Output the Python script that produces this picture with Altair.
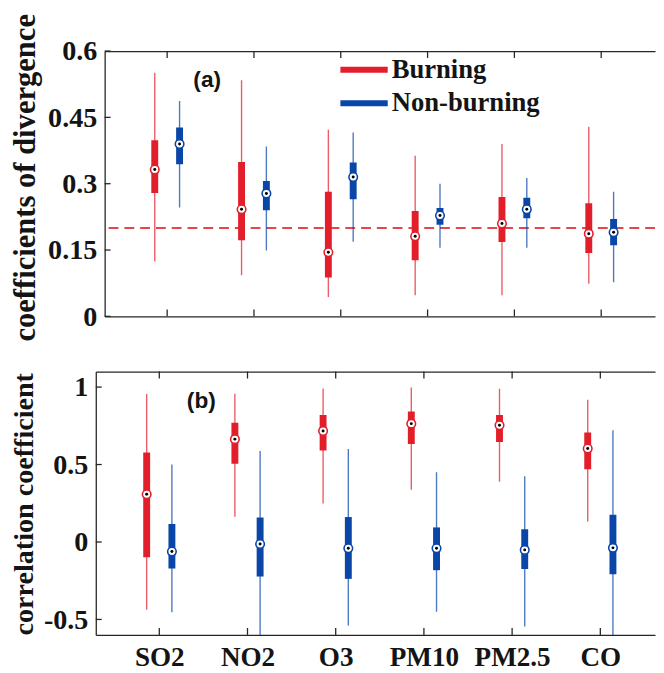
import altair as alt
import pandas as pd

# ---------------- data ----------------
pollutants = ["SO2", "NO2", "O3", "PM10", "PM2.5", "CO"]
groups = ["Burning", "Non-burning"]
colors = ["#E31E2B", "#0A46A8"]

# panel (a): coefficients of divergence  (lower whisker, q1, median, q3, upper whisker)
a_burn_lo = [0.124, 0.093, 0.044, 0.048, 0.048, 0.074]
a_burn_q1 = [0.279, 0.172, 0.088, 0.127, 0.168, 0.143]
a_burn_med = [0.332, 0.242, 0.145, 0.181, 0.210, 0.187]
a_burn_q3 = [0.398, 0.349, 0.282, 0.238, 0.270, 0.256]
a_burn_hi = [0.551, 0.534, 0.422, 0.363, 0.390, 0.429]

a_non_lo = [0.246, 0.149, 0.169, 0.155, 0.155, 0.077]
a_non_q1 = [0.344, 0.240, 0.265, 0.207, 0.222, 0.161]
a_non_med = [0.390, 0.278, 0.315, 0.228, 0.242, 0.190]
a_non_q3 = [0.427, 0.306, 0.348, 0.245, 0.268, 0.220]
a_non_hi = [0.487, 0.384, 0.416, 0.300, 0.313, 0.282]

# panel (b): correlation coefficient
b_burn_lo = [-0.437, 0.163, 0.248, 0.338, 0.389, 0.133]
b_burn_q1 = [-0.099, 0.505, 0.591, 0.632, 0.646, 0.470]
b_burn_med = [0.308, 0.664, 0.717, 0.764, 0.754, 0.603]
b_burn_q3 = [0.578, 0.769, 0.820, 0.842, 0.819, 0.706]
b_burn_hi = [0.955, 0.957, 0.991, 0.998, 0.989, 0.918]

b_non_lo = [-0.454, -0.660, -0.540, -0.450, -0.545, -0.660]
b_non_q1 = [-0.171, -0.223, -0.238, -0.182, -0.175, -0.208]
b_non_med = [-0.062, -0.013, -0.041, -0.041, -0.051, -0.038]
b_non_q3 = [0.116, 0.158, 0.161, 0.094, 0.082, 0.176]
b_non_hi = [0.501, 0.587, 0.600, 0.450, 0.425, 0.721]

a_yticks = [0, 0.15, 0.3, 0.45, 0.6]
b_yticks = [-0.5, 0, 0.5, 1]
x_ticks = [1, 2, 3, 4, 5, 6]
ref_line = [0.2]
panel_labels = ["(a)", "(b)"]
y_titles = ["coefficients of divergence", "correlation coefficient"]

# ---------------- helpers ----------------
FRAME = "#262626"
TEXT = "#141414"
SERIF = "Liberation Serif"
XDOM = [0.28, 6.62]


def panel_df(burn, non):
    rows = []
    for gname, stats in zip(groups, [burn, non]):
        lo, q1, med, q3, hi = stats
        for i, p in enumerate(pollutants):
            rows.append(dict(k=i + 1, pollutant=p, group=gname, lo=lo[i], q1=q1[i],
                             med=med[i], q3=q3[i], hi=hi[i]))
    return pd.DataFrame(rows)


df_a = panel_df([a_burn_lo, a_burn_q1, a_burn_med, a_burn_q3, a_burn_hi],
                [a_non_lo, a_non_q1, a_non_med, a_non_q3, a_non_hi])
df_b = panel_df([b_burn_lo, b_burn_q1, b_burn_med, b_burn_q3, b_burn_hi],
                [b_non_lo, b_non_q1, b_non_med, b_non_q3, b_non_hi])

label_array = "[" + ",".join("'%s'" % p for p in pollutants) + "]"


def make_panel(df, ydom, yticks, title, title_size, title_x, title_y, width, height,
               show_xlabels, label_text, label_pos, extra=None):
    xs = alt.Scale(domain=XDOM, nice=False, zero=False)
    ys = alt.Scale(domain=ydom, nice=False, zero=False)
    col = alt.Color("group:N", scale=alt.Scale(domain=groups, range=colors), legend=None)

    base = alt.Chart(df).transform_calculate(
        pos="datum.k + (datum.group == 'Burning' ? -0.143 : 0.143)")

    left_axis = alt.Axis(orient="left", values=yticks, labelExpr="'' + datum.value",
                         grid=False, ticks=False, tickSize=0, domain=True,
                         domainColor=FRAME, domainWidth=1.3, labelPadding=8,
                         labelFont=SERIF, labelFontWeight="bold", labelFontSize=28.5,
                         labelColor=TEXT, title=title, titleFont=SERIF,
                         titleFontWeight="bold", titleFontSize=title_size,
                         titleColor=TEXT, titleAngle=270, titleAlign="center",
                         titleBaseline="alphabetic", titleX=title_x, titleY=title_y)
    bottom_axis = alt.Axis(orient="bottom", values=x_ticks,
                           labelExpr=label_array + "[datum.value - 1]",
                           labels=show_xlabels, grid=False, ticks=False, tickSize=0,
                           domain=True, domainColor=FRAME, domainWidth=1.3,
                           labelPadding=9, labelFont=SERIF, labelFontWeight="bold",
                           labelFontSize=27.5, labelColor=TEXT, labelBaseline="top",
                           title=None)
    top_axis = alt.Axis(orient="top", values=x_ticks, labels=False, grid=False,
                        ticks=False, tickSize=0, domain=True, domainColor=FRAME,
                        domainWidth=1.3, title=None)

    layers = []
    if extra is not None:
        layers.extend(extra(xs, ys))

    whisk = base.mark_rule(strokeWidth=1.4, opacity=0.72, clip=True).encode(
        x=alt.X("pos:Q", scale=xs, axis=bottom_axis),
        y=alt.Y("lo:Q", scale=ys, axis=left_axis),
        y2="hi:Q", color=col)
    box = base.mark_rule(strokeWidth=7, strokeCap="butt", clip=True).encode(
        x=alt.X("pos:Q", scale=xs, axis=top_axis),
        y=alt.Y("q1:Q", scale=ys, axis=None),
        y2="q3:Q", color=col)
    circ = base.mark_point(filled=True, fill="white", size=75, strokeWidth=1.6,
                           opacity=1, clip=True).encode(
        x=alt.X("pos:Q", scale=xs, axis=None),
        y=alt.Y("med:Q", scale=ys, axis=None),
        stroke=alt.Stroke("group:N", scale=alt.Scale(domain=groups, range=colors),
                          legend=None))
    dot = base.mark_circle(size=9, color="black", opacity=1, clip=True).encode(
        x=alt.X("pos:Q", scale=xs, axis=None),
        y=alt.Y("med:Q", scale=ys, axis=None))

    xt = pd.DataFrame({"k": x_ticks})
    yt = pd.DataFrame({"v": yticks})
    xtick_bot = alt.Chart(xt).mark_rule(color=FRAME, strokeWidth=1.3).encode(
        x=alt.X("k:Q", scale=xs, axis=None), y=alt.value(height), y2=alt.value(height - 7))
    xtick_top = alt.Chart(xt).mark_rule(color=FRAME, strokeWidth=1.3).encode(
        x=alt.X("k:Q", scale=xs, axis=None), y=alt.value(0), y2=alt.value(7))
    ytick = alt.Chart(yt).mark_rule(color=FRAME, strokeWidth=1.3).encode(
        y=alt.Y("v:Q", scale=ys, axis=None), x=alt.value(0), x2=alt.value(6))

    lab = alt.Chart(pd.DataFrame({"t": [label_text]})).mark_text(
        font="Liberation Sans", fontWeight="bold", fontSize=23, color=TEXT,
        align="center", baseline="middle").encode(
        text="t:N", x=alt.value(label_pos[0]), y=alt.value(label_pos[1]))

    layers += [whisk, box, circ, dot, xtick_bot, xtick_top, ytick, lab]
    return alt.layer(*layers).resolve_axis(x="independent", y="independent").properties(
        width=width, height=height)


def extra_a(xs, ys):
    dash = alt.Chart(pd.DataFrame({"v": ref_line})).mark_rule(
        strokeDash=[10, 6], strokeWidth=2, color="#E6454E").encode(
        y=alt.Y("v:Q", scale=ys, axis=None))
    out = [dash]
    leg_y = [19, 53]
    for i, g in enumerate(groups):
        d = pd.DataFrame({"g": [g]})
        out.append(alt.Chart(d).mark_rule(strokeWidth=6, color=colors[i]).encode(
            x=alt.value(239), x2=alt.value(287), y=alt.value(leg_y[i])))
        out.append(alt.Chart(d).mark_text(
            font=SERIF, fontWeight="bold", fontSize=27, color=TEXT, align="left",
            baseline="middle").encode(text="g:N", x=alt.value(291), y=alt.value(leg_y[i])))
    return out


panel_a = make_panel(df_a, [0, 0.6], a_yticks, y_titles[0], 31, -71, 128, 558, 269,
                     False, panel_labels[0], (104, 29), extra=extra_a)
panel_b = make_panel(df_b, [-0.6, 1.1], b_yticks, y_titles[1], 28.5, -64, 134, 567, 267,
                     True, panel_labels[1], (107, 30))


def spacer():
    return alt.Chart(pd.DataFrame({"s": [0]})).mark_point(size=0, opacity=0).encode(
        x=alt.X("s:Q", axis=None), y=alt.Y("s:Q", axis=None)).properties(width=1, height=1)


row_a = alt.hconcat(spacer(), panel_a, spacing=0)
row_b = alt.hconcat(spacer(), panel_b, spacing=0)

chart = alt.vconcat(row_a, row_b, spacing=29).properties(
    padding=0, background="white").configure_view(strokeWidth=0)

chart.save("out.html", embed_options={"renderer": "svg", "actions": False})
